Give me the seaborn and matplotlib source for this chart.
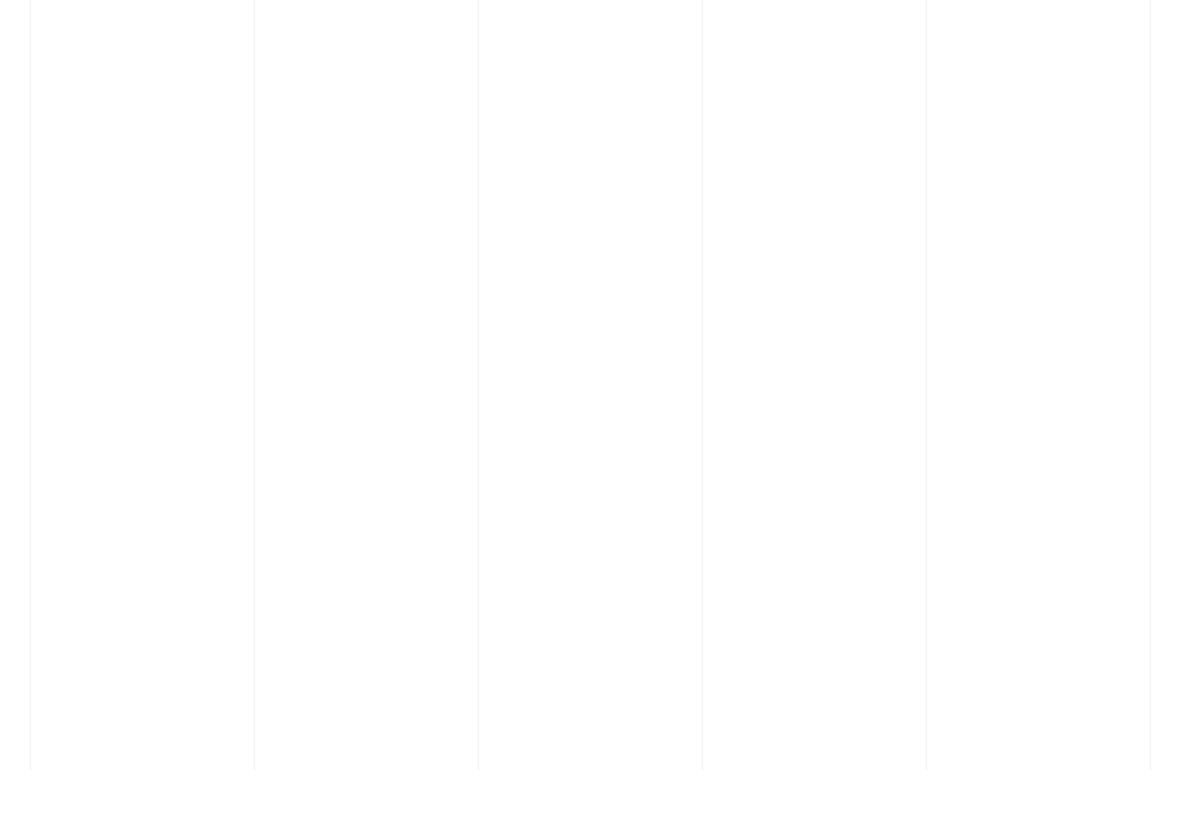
import numpy as np
import pandas as pd
import matplotlib
matplotlib.use("Agg")
import matplotlib.pyplot as plt
import seaborn as sns

# ── data: the only readable structure is six faint vertical guides ──
columns = [0, 1, 2, 3, 4, 5]
values = [np.nan, np.nan, np.nan, np.nan, np.nan, np.nan]  # nothing visible is plotted

df = pd.DataFrame({"column": columns, "value": values})

sns.set_style("whitegrid", {"grid.color": "#f3f3f3", "axes.edgecolor": "white"})

fig = plt.figure(figsize=(11.8, 8.23), dpi=100)
ax = fig.add_axes([0, 1 - 770 / 823, 1, 770 / 823])

sns.lineplot(data=df, x="column", y="value", ax=ax, color="white")

ax.set_xlim(-30 / 224, 5 + 30 / 224)
ax.set_ylim(0, 1)
ax.set_xticks(columns)
ax.set_yticks([])
ax.grid(axis="x", color="#f3f3f3", linewidth=1.0)
ax.grid(axis="y", visible=False)
ax.tick_params(length=0, labelbottom=False, labelleft=False)
ax.set_xlabel("")
ax.set_ylabel("")
sns.despine(ax=ax, left=True, bottom=True)

fig.savefig("out.png", dpi=100, facecolor="white")
